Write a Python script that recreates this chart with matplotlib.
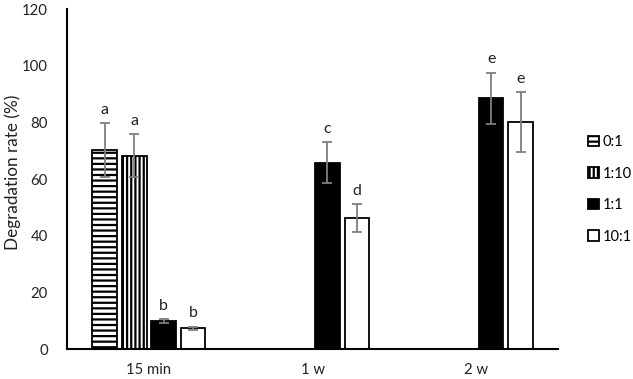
import matplotlib
matplotlib.use("Agg")
import matplotlib.pyplot as plt
import numpy as np

plt.rcParams["font.family"] = ["Lato", "DejaVu Sans"]
plt.rcParams["hatch.linewidth"] = 1.6

categories = ["15 min", "1 w", "2 w"]
series = ["0:1", "1:10", "1:1", "10:1"]
means = {
    "0:1": [70.2, np.nan, np.nan],
    "1:10": [68.3, np.nan, np.nan],
    "1:1": [9.9, 65.8, 88.6],
    "10:1": [7.4, 46.2, 80.1],
}
errors = {
    "0:1": [9.6, np.nan, np.nan],
    "1:10": [7.6, np.nan, np.nan],
    "1:1": [0.6, 7.3, 9.0],
    "10:1": [0.5, 5.0, 10.6],
}
letters = {
    "0:1": ["a", "", ""],
    "1:10": ["a", "", ""],
    "1:1": ["b", "c", "e"],
    "10:1": ["b", "d", "e"],
}

styles = {
    "0:1": dict(facecolor="white", hatch="---"),
    "1:10": dict(facecolor="white", hatch="||||"),
    "1:1": dict(facecolor="black", hatch=None),
    "10:1": dict(facecolor="white", hatch=None),
}

fig = plt.figure(figsize=(6.33, 3.79), dpi=100)
ax = fig.add_axes([0.106, 0.079, 0.776, 0.897])

x = np.arange(len(categories))
step = 0.18
width = 0.15
for i, name in enumerate(series):
    pos = x + (i - 1.5) * step
    m = np.array(means[name])
    e = np.array(errors[name])
    ax.bar(pos, m, width, edgecolor="black", linewidth=1.3, label=name,
           **styles[name])
    ax.errorbar(pos, m, yerr=e, fmt="none", ecolor="#7f7f7f", elinewidth=1.3,
                capsize=3.5, capthick=1.3)
    for p, v, err, lab in zip(pos, m, e, letters[name]):
        if lab:
            ax.text(p, v + err + 2.2, lab, ha="center", va="bottom",
                    fontsize=11.5, color="#222222")

ax.set_xlim(-0.5, 2.5)
ax.set_ylim(0, 120)
ax.set_yticks(np.arange(0, 121, 20))
ax.set_xticks(x)
ax.set_xticklabels(categories)
ax.tick_params(length=0, labelsize=10.7, colors="#222222")
ax.tick_params(axis="x", pad=10)
ax.tick_params(axis="y", pad=14)
for s in ["top", "right"]:
    ax.spines[s].set_visible(False)
for s in ["left", "bottom"]:
    ax.spines[s].set_linewidth(1.5)
ax.set_ylabel("Degradation rate (%)", fontsize=12.3, color="#222222")
ax.yaxis.set_label_coords(-0.094, 0.52)

ax.legend(loc="center left", bbox_to_anchor=(1.033, 0.47), frameon=False,
          handlelength=0.75, handleheight=0.75, handletextpad=0.3,
          labelspacing=1.2, fontsize=10.5)

fig.savefig("out.png", dpi=100)
